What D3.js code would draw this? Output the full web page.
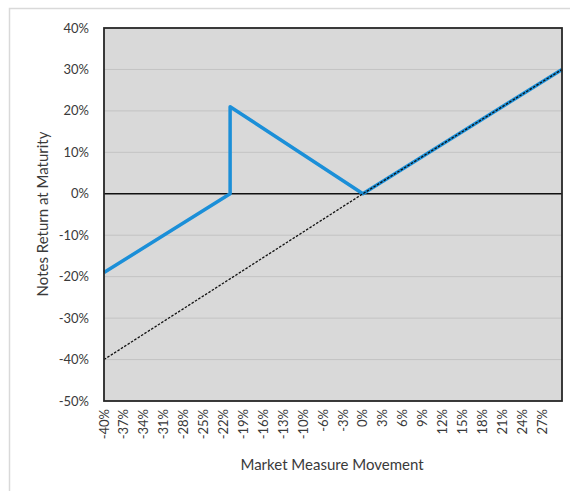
<!DOCTYPE html>
<html><head><meta charset="utf-8">
<script src="https://cdn.jsdelivr.net/npm/d3@7"></script>
<style>html,body{margin:0;padding:0;background:#fff;}svg{display:block;}</style>
</head><body>
<svg id="chart" width="570" height="491"></svg>
<script>
// Category axis values (market measure movement, %)
const categories = [-40,-39,-38,-37,-36,-35,-34,-33,-32,-31,-30,-29,-28,-27,-26,-25,-24,-23,-22,-21,-20,-19,-18,-17,-16,-15,-14,-13,-12,-11,-10,-9,-8,-6,-5,-4,-3,-2,-1,0,1,2,3,4,5,6,7,8,9,10,11,12,13,14,15,16,17,18,19,20,21,22,23,24,25,26,27,28,29,30];
// Notes return series (breakpoints: category, return %)
const notesX = [-40,-21,-21,0,30];
const notesY = [-19,0,21,0,30];
// Reference (market measure itself), dotted
const refX = [-40,0,30];
const refY = [-40,0,30];
// Axis ticks
const yTicks = [40,30,20,10,0,-10,-20,-30,-40,-50];
const xTickLabels = [-40,-37,-34,-31,-28,-25,-22,-19,-16,-13,-10,-6,-3,0,3,6,9,12,15,18,21,24,27];

const svg = d3.select("#chart");
const m = {left:104, right:562, top:28, bottom:401};
const font = "Lato, 'Open Sans', sans-serif";
const txt = "#3a3a3a";

svg.append("rect").attr("x",9.5).attr("y",8.5).attr("width",700).attr("height",700)
  .attr("fill","#fff").attr("stroke","#d9d9d9").attr("stroke-width",1.5);

const x = d3.scalePoint().domain(categories).range([m.left, m.right]);
const y = d3.scaleLinear().domain([-50,40]).range([m.bottom, m.top]);

svg.append("rect").attr("x",m.left).attr("y",m.top)
  .attr("width",m.right-m.left).attr("height",m.bottom-m.top).attr("fill","#d9d9d9");

// gridlines
svg.append("g").selectAll("line").data(yTicks.filter(d=>d!==0 && d!==40 && d!==-50)).join("line")
  .attr("x1",m.left).attr("x2",m.right).attr("y1",d=>y(d)).attr("y2",d=>y(d))
  .attr("stroke","#c3c3c3").attr("stroke-width",1);

// zero line
svg.append("line").attr("x1",m.left).attr("x2",m.right).attr("y1",y(0)).attr("y2",y(0))
  .attr("stroke","#111").attr("stroke-width",1.5);

const line = d3.line().x(d=>x(d[0])).y(d=>y(d[1]));
const notes = notesX.map((v,i)=>[v,notesY[i]]);
const ref = refX.map((v,i)=>[v,refY[i]]);

svg.append("path").attr("d",line(notes)).attr("fill","none")
  .attr("stroke","#1b8fd8").attr("stroke-width",3.5).attr("stroke-linejoin","round");
svg.append("path").attr("d",line(ref)).attr("fill","none")
  .attr("stroke","#111").attr("stroke-width",1.3).attr("stroke-dasharray","2.5,1.5");

// plot border
svg.append("rect").attr("x",m.left).attr("y",m.top)
  .attr("width",m.right-m.left).attr("height",m.bottom-m.top)
  .attr("fill","none").attr("stroke","#262626").attr("stroke-width",1.8);

// y axis labels
svg.append("g").selectAll("text").data(yTicks).join("text")
  .attr("x",89).attr("y",d=>y(d)).attr("dy","0.35em").attr("text-anchor","end")
  .attr("font-family",font).attr("font-size",13).attr("fill",txt)
  .text(d=>d+"%");

// x axis labels (rotated)
const labelPos = xTickLabels.map((d,i)=>x(categories[i*3]));
svg.append("g").selectAll("text").data(xTickLabels).join("text")
  .attr("transform",(d,i)=>`translate(${labelPos[i]},${m.bottom+8}) rotate(-90)`)
  .attr("x",0).attr("y",0).attr("dy","0.35em").attr("text-anchor","end")
  .attr("font-family",font).attr("font-size",13).attr("fill",txt)
  .text(d=>d+"%");

// titles
svg.append("text").attr("transform",`translate(43,214) rotate(-90)`)
  .attr("text-anchor","middle").attr("dy","0.35em")
  .attr("font-family",font).attr("font-size",15).attr("fill",txt)
  .text("Notes Return at Maturity");
svg.append("text").attr("x",332).attr("y",465).attr("dy","0.35em")
  .attr("text-anchor","middle")
  .attr("font-family",font).attr("font-size",15).attr("fill",txt)
  .text("Market Measure Movement");
</script>
</body></html>
